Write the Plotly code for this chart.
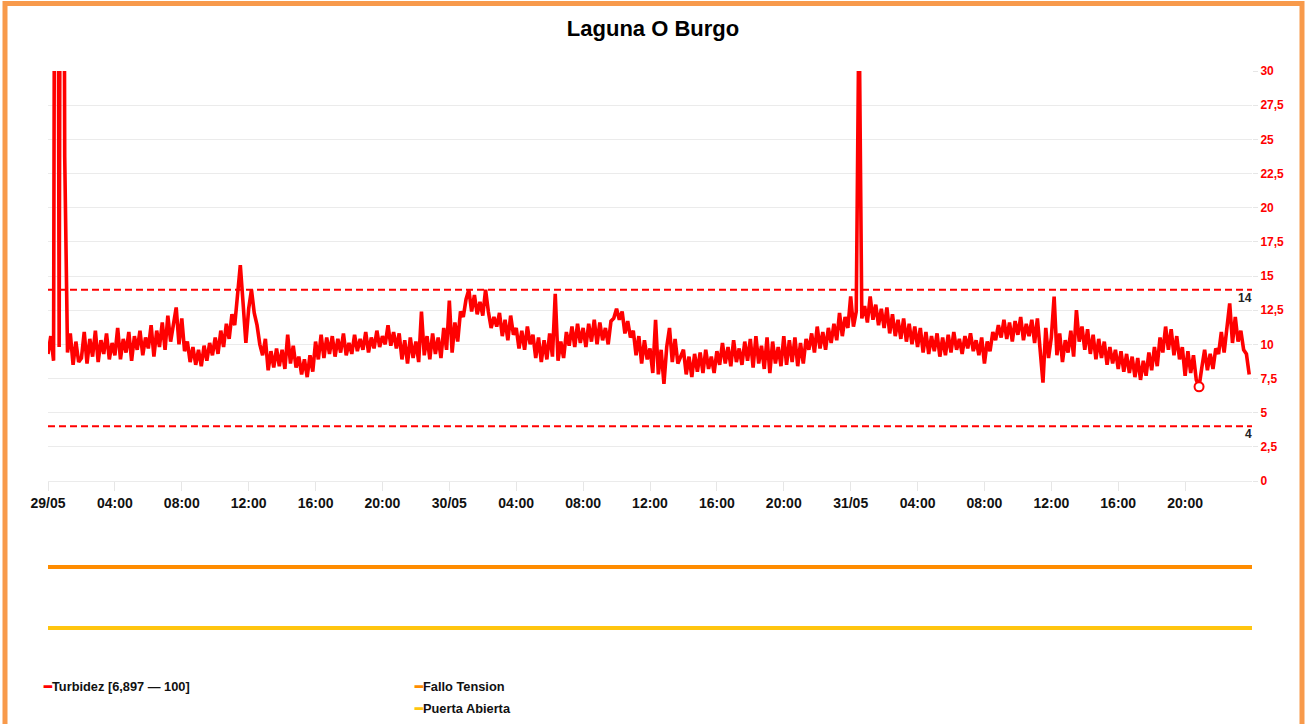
import pandas as pd
import plotly.graph_objects as go

# Turbidez, un valor cada 10 minutos desde 29/05 00:00 (una fila = una hora)
turbidez = [
    # 29/05
    9.3, 10.6, 8.8, 100, 9.8, 100,
    23.7, 9.4, 10.8, 8.5, 10.2, 8.7,
    9.0, 10.9, 8.6, 10.4, 9.1, 11.0,
    8.7, 10.3, 9.3, 10.8, 8.9, 10.1,
    9.2, 11.2, 8.9, 10.4, 9.4, 10.9,
    8.8, 10.6, 9.6, 11.0, 9.2, 10.5,
    9.7, 11.4, 9.1, 11.0, 9.8, 11.6,
    9.6, 12.1, 10.2, 11.5, 12.7, 10.0,
    11.9, 9.5, 10.2, 8.7, 9.8, 8.5,
    9.6, 8.4, 9.9, 8.8, 10.1, 9.2,
    10.5, 9.3, 11.0, 9.8, 11.5, 10.4,
    12.2, 11.4, 13.6, 15.8, 13.0, 10.1,
    12.6, 14.0, 12.3, 11.4, 10.0, 9.2,
    10.4, 8.1, 9.5, 8.3, 9.7, 8.4,
    9.6, 8.2, 10.7, 8.6, 9.9, 8.3,
    9.1, 7.8, 8.9, 7.6, 9.2, 8.0,
    10.2, 8.9, 10.7, 9.0, 10.5, 9.3,
    10.6, 9.1, 10.4, 9.4, 10.8, 9.2,
    10.1, 9.3, 10.7, 9.5, 10.4, 9.6,
    10.9, 9.4, 10.5, 9.7, 11.0, 9.8,
    10.6, 10.0, 11.4, 9.9, 10.9, 9.7,
    10.8, 8.9, 10.3, 8.6, 10.5, 9.0,
    10.2, 8.7, 12.4, 9.2, 10.6, 8.9,
    10.8, 9.3, 10.5, 9.0, 11.2, 9.6,
    # 30/05
    13.2, 9.4, 11.6, 10.2, 12.4, 12.0,
    13.3, 14.0, 12.4, 13.6, 12.2, 13.1,
    12.1, 14.0, 12.4, 11.2, 12.0, 11.3,
    12.3, 10.6, 11.8, 10.3, 12.1, 10.7,
    11.2, 9.7, 11.0, 9.6, 11.3, 10.0,
    10.7, 9.0, 10.5, 8.7, 10.3, 8.9,
    10.8, 9.1, 13.7, 8.8, 10.2, 9.0,
    10.9, 9.9, 11.3, 9.8, 11.5, 10.1,
    11.2, 9.8, 11.5, 10.2, 11.8, 10.0,
    11.6, 10.3, 11.2, 10.0, 11.7, 11.9,
    12.6, 11.8, 12.4, 10.8, 11.7, 10.5,
    11.0, 9.2, 10.6, 8.6, 10.3, 8.9,
    9.7, 7.9, 11.8, 7.8, 9.6, 7.1,
    9.8, 11.2, 8.7, 10.4, 8.6, 9.2,
    9.6, 7.8, 9.1, 7.6, 9.3, 8.0,
    9.4, 7.9, 9.6, 8.2, 9.1, 7.9,
    9.5, 8.5, 10.1, 8.6, 9.8, 8.4,
    10.3, 8.7, 9.7, 8.5, 10.2, 8.8,
    10.4, 8.3, 10.6, 8.6, 9.9, 8.2,
    10.5, 7.9, 10.2, 8.6, 9.8, 8.4,
    10.6, 8.5, 10.3, 8.7, 10.5, 8.4,
    10.1, 8.6, 10.4, 9.6, 10.8, 9.4,
    11.3, 9.7, 10.9, 9.6, 11.2, 10.1,
    11.5, 10.3, 12.3, 10.6, 12.0, 11.2,
    # 31/05
    13.5, 11.3, 12.4, 35.0, 11.9, 12.8,
    11.6, 13.5, 11.8, 12.9, 11.4, 12.6,
    11.2, 12.7, 10.8, 12.2, 10.6, 11.8,
    10.4, 11.9, 10.2, 11.5, 10.0, 11.3,
    9.8, 11.2, 9.4, 10.9, 9.3, 10.6,
    9.5, 10.8, 9.1, 10.5, 9.2, 10.7,
    9.4, 10.9, 9.6, 10.4, 9.3, 10.6,
    9.7, 10.8, 9.5, 10.3, 9.2, 10.5,
    8.6, 10.2, 9.5, 10.9, 10.3, 11.4,
    10.5, 11.8, 10.4, 11.6, 10.2, 11.7,
    10.7, 12.0, 10.3, 11.5, 10.6, 11.8,
    10.1, 11.9, 9.4, 7.2, 11.2, 9.0,
    10.5, 13.5, 9.2, 10.8, 8.7, 10.3,
    9.4, 11.0, 9.1, 12.5, 10.2, 11.3,
    9.6, 11.1, 9.3, 10.7, 8.9, 10.4,
    9.0, 10.2, 8.5, 9.8, 8.6, 9.6,
    8.2, 9.5, 8.0, 9.3, 7.9, 9.1,
    7.6, 9.0, 7.4, 8.8, 7.7, 9.4,
    8.1, 9.8, 8.4, 10.5, 9.4, 11.3,
    9.6, 11.1, 9.2, 10.6, 8.9, 9.8,
    7.7, 9.5, 7.9, 9.2, 7.4, 6.897,
    8.3, 9.6, 8.1, 9.3, 8.2, 9.7,
    9.3, 10.9, 9.4, 11.0, 13.0, 10.1,
    12.0, 10.2, 11.0, 9.6, 9.3, 7.8,
]

inicio = '2024-05-29 00:00'
fin = '2024-06-01 00:00'
tiempos = pd.date_range(inicio, periods=len(turbidez), freq='10min')

umbral_alto = 14
umbral_bajo = 4

# estados digitales (sin eventos en el periodo)
estado_tiempos = [inicio, fin]
fallo_tension = [0, 0]
puerta_abierta = [0, 0]

tick_vals = pd.date_range(inicio, periods=18, freq='4h')
tick_text = ['29/05', '04:00', '08:00', '12:00', '16:00', '20:00',
             '30/05', '04:00', '08:00', '12:00', '16:00', '20:00',
             '31/05', '04:00', '08:00', '12:00', '16:00', '20:00']

ROJO = '#ff0000'
NARANJA = '#ff8c00'
AMARILLO = '#ffc50f'

vmin = min(turbidez)
vmax = max(turbidez)
i_min = turbidez.index(vmin)
nombre_turb = 'Turbidez [%s — %s]' % (('%.3f' % vmin).replace('.', ','), '%g' % vmax)

# pixeles -> fracciones del area de trazado
W, H = 1306, 724
ML, MR, MT, MB = 48, 54, 71, 84
PW = W - ML - MR
PH = H - MT - MB


def px(x):
    return (x - ML) / PW


def py(y):
    return (H - MB - y) / PH


fig = go.Figure()

fig.add_trace(go.Scatter(x=tiempos, y=turbidez, mode='lines', name=nombre_turb,
                         line=dict(color=ROJO, width=3.6), showlegend=False))
fig.add_trace(go.Scatter(x=[tiempos[i_min]], y=[vmin], mode='markers', showlegend=False,
                         marker=dict(symbol='circle', size=9, color='white',
                                     line=dict(color=ROJO, width=2))))

for u in (umbral_alto, umbral_bajo):
    fig.add_trace(go.Scatter(x=[inicio, fin], y=[u, u], mode='lines', showlegend=False,
                             line=dict(color=ROJO, width=2, dash='7px,4px')))
    fig.add_annotation(x=1, xref='paper', y=u, yref='y', text='<b>%d</b>' % u,
                       showarrow=False, xanchor='right', yanchor='top', yshift=1, xshift=2,
                       font=dict(family='Arial', size=12, color='#222222'))

fig.add_trace(go.Scatter(x=estado_tiempos, y=fallo_tension, yaxis='y2', mode='lines',
                         name='Fallo Tension', line=dict(color=NARANJA, width=4), showlegend=False))
fig.add_trace(go.Scatter(x=estado_tiempos, y=puerta_abierta, yaxis='y3', mode='lines',
                         name='Puerta Abierta', line=dict(color=AMARILLO, width=4), showlegend=False))

# leyenda
leyenda = [(nombre_turb, ROJO, 41, 686), ('Fallo Tension', NARANJA, 412, 686),
           ('Puerta Abierta', AMARILLO, 412, 708)]
for texto, color, lx, ly in leyenda:
    fig.add_annotation(x=px(lx), y=py(ly), xref='paper', yref='paper', showarrow=False,
                       xanchor='left', yanchor='middle',
                       text='<span style="color:%s">━</span>%s' % (color, texto),
                       font=dict(family='Arial', size=12.8, color='#111111', weight='bold'))

# marco naranja
fig.add_shape(type='rect', xref='paper', yref='paper', layer='above',
              x0=px(5), x1=px(1302), y0=py(760), y1=py(3.5),
              line=dict(color='#f89a4b', width=5), fillcolor='rgba(0,0,0,0)')

fig.update_layout(
    width=W, height=H,
    margin=dict(l=ML, r=MR, t=MT, b=MB),
    paper_bgcolor='white', plot_bgcolor='white',
    separators=',.',
    title=dict(text='<b>Laguna O Burgo</b>', x=0.5, xref='container', xanchor='center',
               y=1 - 28 / H, yref='container', yanchor='middle',
               font=dict(family='Arial', size=22, color='black')),
    xaxis=dict(type='date', range=[inicio, fin], showgrid=False, zeroline=False,
               tickmode='array', tickvals=tick_vals, ticktext=tick_text,
               ticks='outside', ticklen=9, tickcolor='#e6e6e6',
               showline=True, linecolor='#ebebeb', linewidth=1,
               tickfont=dict(family='Arial', size=14, color='#111111', weight='bold')),
    yaxis=dict(domain=[py(481), 1], range=[0, 30], side='right', dtick=2.5, tick0=0,
               showgrid=True, gridcolor='#ebebeb', zeroline=False,
               ticks='outside', ticklen=5, tickcolor='#e6e6e6',
               tickfont=dict(family='Arial', size=12, color=ROJO, weight='bold')),
    yaxis2=dict(domain=[py(587), py(547)], range=[-1, 1], visible=False),
    yaxis3=dict(domain=[py(638), py(618)], range=[-1, 1], visible=False),
    showlegend=False,
)

fig.write_html('out.html', config={'displayModeBar': False},
               post_script="document.body.style.margin='0';")
